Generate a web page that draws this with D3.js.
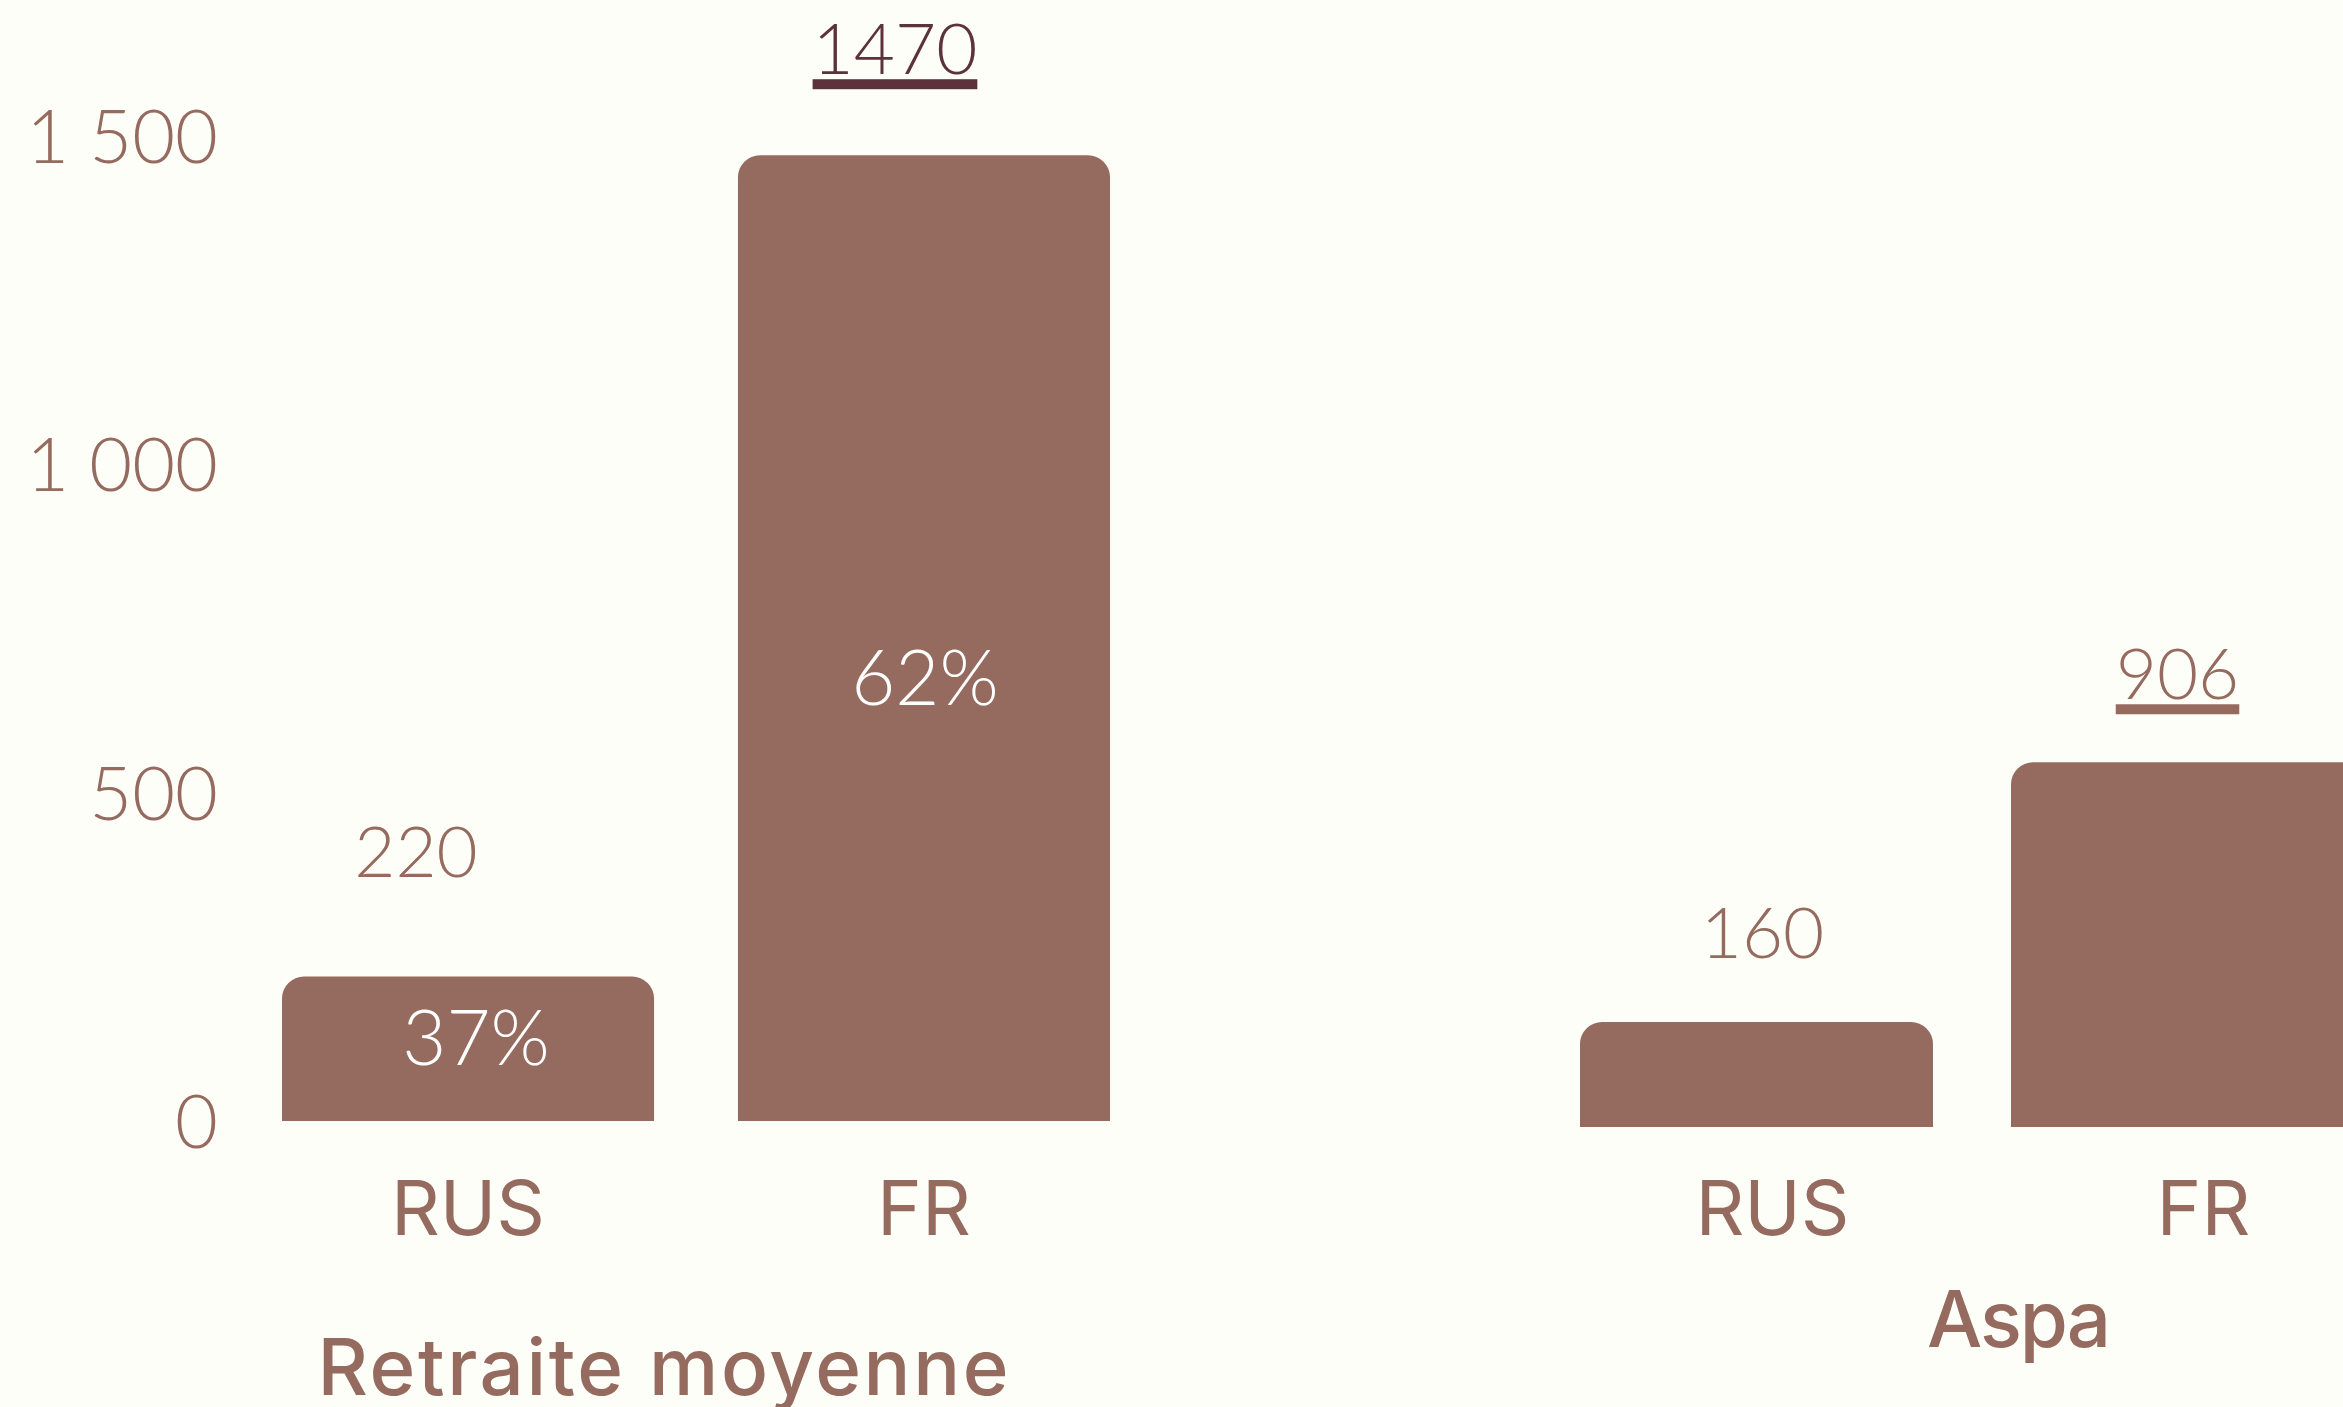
<!DOCTYPE html>
<html>
<head>
<meta charset="utf-8">
<script src="https://cdn.jsdelivr.net/npm/d3@7"></script>
<style>
  body { margin: 0; background: #fefef9; }
  svg { display: block; }
</style>
</head>
<body>
<svg id="chart" width="2343" height="1407"></svg>
<script>
// ---- data ----
const countries = ["RUS", "FR"];
const retraiteValues = [220, 1470];
const retraitePct = ["37%", "62%"];
const aspaValues = [160, 906];
// the FR Aspa bar is caught mid-growth in the picture, so its drawn height is lower than its label
const aspaBarValues = [160, 556];
const yTicks = [0, 500, 1000, 1500];
const panelTitles = ["Retraite moyenne", "Aspa"];

// ---- look ----
const W = 2343, H = 1407;
const brown = "#966b5f", dark = "#5c323b", bg = "#fefef9";
const numFont = "Lato, 'Open Sans', sans-serif";
const labFont = "Inter, Roboto, sans-serif";

const svg = d3.select("#chart");
svg.append("rect").attr("width", W).attr("height", H).attr("fill", bg);

const frLocale = d3.formatLocale({decimal: ",", thousands: "\u00a0", grouping: [3], currency: ["", " €"]});
const fmtTick = frLocale.format(",d");

// one panel per measure; the right one runs off the edge of the picture like the original
const panels = [
  {
    title: panelTitles[0], values: retraiteValues, bars: retraiteValues, pct: retraitePct,
    xRange: [282, 1110], base: 1121, top: 135.5, pad: 0.184,
    valOff: [{dx: -52, dy: -99, color: brown, under: false}, {dx: -29, dy: -81, color: dark, under: true}],
    pctOff: [{dx: 8, dy: -56}, {dx: 1, dy: -416}],
    catDx: 0, titleX: 663, titleY: 1395, titleLen: 691, axis: true
  },
  {
    title: panelTitles[1], values: aspaValues, bars: aspaBarValues, pct: null,
    xRange: [1580, 2364], base: 1127, top: 143, pad: 0.181,
    valOff: [{dx: 6, dy: -64, color: brown, under: false}, {dx: -10, dy: -63, color: brown, under: true}],
    pctOff: null,
    catDx: 16, titleX: 2019, titleY: 1347, titleLen: 184, axis: false
  }
];

function topRounded(x, y, w, h, r) {
  r = Math.min(r, h, w / 2);
  return `M${x},${y + h}V${y + r}A${r},${r} 0 0 1 ${x + r},${y}H${x + w - r}A${r},${r} 0 0 1 ${x + w},${y + r}V${y + h}Z`;
}

panels.forEach(p => {
  const x = d3.scaleBand().domain(countries).range(p.xRange).paddingInner(p.pad).paddingOuter(0);
  const y = d3.scaleLinear().domain([0, 1500]).range([p.base, p.top]);
  const g = svg.append("g");

  if (p.axis) {
    const ax = g.append("g")
      .attr("transform", "translate(218,0)")
      .call(d3.axisLeft(y).tickValues(yTicks).tickSize(0).tickPadding(0).tickFormat(fmtTick));
    ax.select(".domain").remove();
    ax.selectAll("text")
      .attr("font-family", numFont).attr("font-size", 74).attr("font-weight", 300)
      .attr("fill", brown).attr("dy", "0.36em");
  }

  const rows = countries.map((c, i) => ({c, v: p.values[i], b: p.bars[i], i}));

  g.selectAll(".bar").data(rows).join("path")
    .attr("class", "bar")
    .attr("fill", brown)
    .attr("d", d => topRounded(x(d.c), y(d.b), x.bandwidth(), y(0) - y(d.b), 22));

  // value above each bar
  rows.forEach(d => {
    const o = p.valOff[d.i];
    const t = g.append("text")
      .attr("x", x(d.c) + x.bandwidth() / 2 + o.dx)
      .attr("y", y(d.b) + o.dy)
      .attr("text-anchor", "middle")
      .attr("font-family", numFont).attr("font-size", 71).attr("font-weight", 300)
      .attr("fill", o.color)
      .text(d.v);
    if (o.under) {
      const bb = t.node().getBBox();
      g.append("rect")
        .attr("x", bb.x).attr("width", bb.width)
        .attr("y", y(d.b) + o.dy + 5).attr("height", 10)
        .attr("fill", o.color);
    }
  });

  // share inside the bar
  if (p.pct) {
    g.selectAll(".pct").data(rows).join("text")
      .attr("class", "pct")
      .attr("x", d => x(d.c) + x.bandwidth() / 2 + p.pctOff[d.i].dx)
      .attr("y", d => y(0) + p.pctOff[d.i].dy)
      .attr("text-anchor", "middle")
      .attr("font-family", numFont).attr("font-size", 76).attr("font-weight", 300)
      .attr("fill", "#ffffff")
      .text(d => p.pct[d.i]);
  }

  // country labels
  g.selectAll(".cat").data(rows).join("text")
    .attr("class", "cat")
    .attr("x", d => x(d.c) + x.bandwidth() / 2 + p.catDx)
    .attr("y", 1235)
    .attr("text-anchor", "middle")
    .attr("font-family", labFont).attr("font-size", 76)
    .attr("fill", brown)
    .text(d => d.c);

  g.append("text")
    .attr("x", p.titleX).attr("y", p.titleY)
    .attr("text-anchor", "middle")
    .attr("font-family", labFont).attr("font-size", 78).attr("font-weight", 500)
    .attr("textLength", p.titleLen).attr("lengthAdjust", "spacing")
    .attr("fill", brown)
    .text(p.title);
});
</script>
</body>
</html>
